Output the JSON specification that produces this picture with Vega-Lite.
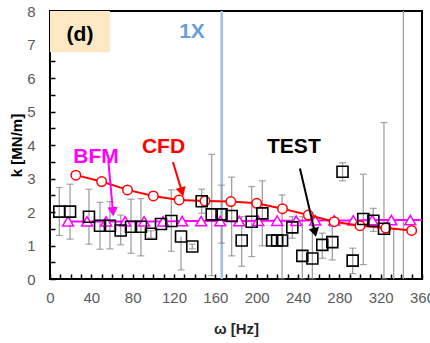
{
  "$schema": "https://vega.github.io/schema/vega-lite/v6.json",
  "width": 372,
  "height": 268,
  "autosize": {"type": "none"},
  "padding": {"left": 50, "top": 11, "right": 8, "bottom": 64},
  "background": "white",
  "config": {
    "font": "Liberation Sans",
    "view": {"stroke": "#000000", "strokeWidth": 2},
    "axis": {
      "grid": false,
      "domain": false,
      "labelFont": "Liberation Sans",
      "labelFontSize": 15,
      "labelColor": "#595959",
      "titleFont": "Liberation Sans",
      "titleFontSize": 15,
      "titleFontWeight": "bold",
      "titleColor": "#000000",
      "tickColor": "#000000",
      "tickWidth": 1.5,
      "tickSize": -5,
      "labelOverlap": false,
      "labelFlush": false
    }
  },
  "datasets": {
    "test": [
      {"w": 9, "k": 2.01, "lo": 1.30, "hi": 2.73},
      {"w": 19.4, "k": 2.01, "lo": 1.19, "hi": 2.83},
      {"w": 37.7, "k": 1.86, "lo": 1.04, "hi": 2.68},
      {"w": 48.4, "k": 1.59, "lo": 0.89, "hi": 2.29},
      {"w": 58, "k": 1.59, "lo": 0.90, "hi": 2.31},
      {"w": 68.4, "k": 1.45, "lo": 1.02, "hi": 1.91},
      {"w": 78.4, "k": 1.56, "lo": 0.77, "hi": 2.38},
      {"w": 88, "k": 1.56, "lo": 0.69, "hi": 2.40},
      {"w": 97.7, "k": 1.35, "lo": 1.22, "hi": 1.44},
      {"w": 107.4, "k": 1.64, "lo": 1.64, "hi": 1.64},
      {"w": 117.4, "k": 1.73, "lo": 0.83, "hi": 2.66},
      {"w": 126.8, "k": 1.27, "lo": 0.27, "hi": 1.27},
      {"w": 137.7, "k": 0.97, "lo": 0.90, "hi": 1.04},
      {"w": 146.8, "k": 2.32, "lo": 1.96, "hi": 2.68},
      {"w": 156.5, "k": 1.93, "lo": 0.10, "hi": 3.72},
      {"w": 166, "k": 1.93, "lo": 1.07, "hi": 2.80},
      {"w": 175.8, "k": 1.88, "lo": 0.69, "hi": 3.04},
      {"w": 185.5, "k": 1.15, "lo": 0.38, "hi": 1.86},
      {"w": 195.2, "k": 1.71, "lo": 0.67, "hi": 2.76},
      {"w": 205.5, "k": 1.96, "lo": 0.99, "hi": 2.93},
      {"w": 215, "k": 1.15, "lo": 1.15, "hi": 1.15},
      {"w": 219.8, "k": 1.15, "lo": 1.15, "hi": 1.15},
      {"w": 224.6, "k": 1.15, "lo": 0, "hi": 2.51},
      {"w": 234.5, "k": 1.54, "lo": 1.22, "hi": 1.86},
      {"w": 244.2, "k": 0.69, "lo": 0, "hi": 1.86},
      {"w": 253.9, "k": 0.61, "lo": 0, "hi": 1.9},
      {"w": 263.5, "k": 1.02, "lo": 0.62, "hi": 1.37},
      {"w": 273.2, "k": 1.10, "lo": 0.57, "hi": 1.57},
      {"w": 283.1, "k": 3.20, "lo": 2.93, "hi": 3.47},
      {"w": 292.9, "k": 0.55, "lo": 0.16, "hi": 0.92},
      {"w": 303.2, "k": 1.79, "lo": 0.43, "hi": 3.13},
      {"w": 312.9, "k": 1.74, "lo": 1.42, "hi": 2.11},
      {"w": 323.2, "k": 1.50, "lo": 0, "hi": 4.67},
      {"w": 332.6, "k": null, "lo": 0, "hi": 1.52},
      {"w": 342, "k": null, "lo": 0, "hi": 8}
    ],
    "cfd": [
      {"w": 25, "k": 3.10}, {"w": 50, "k": 2.91}, {"w": 75, "k": 2.66}, {"w": 100, "k": 2.48},
      {"w": 125, "k": 2.36}, {"w": 150, "k": 2.33}, {"w": 175, "k": 2.31}, {"w": 200, "k": 2.26},
      {"w": 225, "k": 2.10}, {"w": 250, "k": 1.91}, {"w": 275, "k": 1.71}, {"w": 300, "k": 1.59},
      {"w": 325, "k": 1.52}, {"w": 350, "k": 1.45}
    ],
    "bfm": [
      {"w": 17.5, "k": 1.72}, {"w": 35.9, "k": 1.72}, {"w": 54.3, "k": 1.72}, {"w": 72.7, "k": 1.72},
      {"w": 91.1, "k": 1.72}, {"w": 109.5, "k": 1.72}, {"w": 127.9, "k": 1.73}, {"w": 146.3, "k": 1.73},
      {"w": 164.7, "k": 1.73}, {"w": 183.1, "k": 1.73}, {"w": 201.5, "k": 1.74}, {"w": 219.9, "k": 1.74},
      {"w": 238.3, "k": 1.74}, {"w": 256.7, "k": 1.75}, {"w": 275.1, "k": 1.75}, {"w": 293.5, "k": 1.75},
      {"w": 311.9, "k": 1.76}, {"w": 330.3, "k": 1.76}, {"w": 348.7, "k": 1.76}, {"w": 367.1, "k": 1.76}
    ],
    "arrows": [
      {"name": "BFM", "w": 56.4, "k": 3.55, "w2": 60.9, "k2": 2.01},
      {"name": "CFD", "w": 119, "k": 3.49, "w2": 127.7, "k2": 2.60},
      {"name": "TEST", "w": 241.9, "k": 3.30, "w2": 256.4, "k2": 1.39}
    ],
    "notes": [
      {"name": "(d)", "w": 29, "k": 7.28},
      {"name": "1X", "w": 137.4, "k": 7.37},
      {"name": "BFM", "w": 44.5, "k": 3.64},
      {"name": "CFD", "w": 109.8, "k": 3.94},
      {"name": "TEST", "w": 236, "k": 3.94}
    ]
  },
  "encoding": {
    "x": {
      "field": "w", "type": "quantitative",
      "scale": {"domain": [0, 360], "nice": false, "zero": false},
      "axis": {
        "title": "ω [Hz]",
        "values": [0,10,20,30,40,50,60,70,80,90,100,110,120,130,140,150,160,170,180,190,200,210,220,230,240,250,260,270,280,290,300,310,320,330,340,350,360],
        "labelExpr": "datum.value % 40 == 0 ? format(datum.value, 'd') : ''",
        "labelPadding": 16,
        "titlePadding": 16,
        "titleColor": "#262626"
      }
    },
    "y": {
      "field": "k", "type": "quantitative",
      "scale": {"domain": [0, 8], "nice": false},
      "axis": {
        "title": "k [MN/m]",
        "values": [0,0.5,1,1.5,2,2.5,3,3.5,4,4.5,5,5.5,6,6.5,7,7.5,8],
        "labelExpr": "datum.value % 1 == 0 ? format(datum.value, 'd') : ''",
        "labelPadding": 20,
        "titlePadding": 2
      }
    }
  },
  "layer": [
    {
      "data": {"values": [{"w": 0, "w2": 58, "k": 6.77, "k2": 8}]},
      "mark": {"type": "rect", "fill": "#FCE8C3"},
      "encoding": {"x2": {"field": "w2"}, "y2": {"field": "k2"}}
    },
    {
      "data": {"values": [{"w": 166.2}]},
      "mark": {"type": "rule", "color": "#9DC3E6", "strokeWidth": 2.5},
      "encoding": {"y": null}
    },
    {
      "data": {"name": "test"},
      "mark": {"type": "rule", "color": "#A0A0A0", "strokeWidth": 1.3},
      "encoding": {
        "y": {"field": "lo", "type": "quantitative", "scale": {"domain": [0, 8], "nice": false}},
        "y2": {"field": "hi"}
      }
    },
    {
      "data": {"name": "test"},
      "transform": [{"filter": "datum.k != null && datum.lo < datum.k"}],
      "mark": {"type": "tick", "orient": "horizontal", "color": "#808080", "size": 7, "thickness": 1.2},
      "encoding": {"y": {"field": "lo", "type": "quantitative", "scale": {"domain": [0, 8], "nice": false}}}
    },
    {
      "data": {"name": "test"},
      "transform": [{"filter": "datum.k != null && datum.hi > datum.k"}],
      "mark": {"type": "tick", "orient": "horizontal", "color": "#808080", "size": 7, "thickness": 1.2},
      "encoding": {"y": {"field": "hi", "type": "quantitative", "scale": {"domain": [0, 8], "nice": false}}}
    },
    {
      "data": {"name": "bfm"},
      "mark": {"type": "line", "color": "#FF00FF", "strokeWidth": 2, "clip": true},
      "encoding": {}
    },
    {
      "data": {"name": "bfm"},
      "mark": {"type": "point", "shape": "triangle-up", "size": 120, "filled": false, "fill": "white", "fillOpacity": 1, "stroke": "#FF00FF", "strokeWidth": 1.5, "opacity": 1, "clip": true},
      "encoding": {}
    },
    {
      "data": {"name": "cfd"},
      "mark": {"type": "line", "color": "#FF0000", "strokeWidth": 2},
      "encoding": {}
    },
    {
      "data": {"name": "cfd"},
      "mark": {"type": "point", "shape": "circle", "size": 90, "filled": false, "fill": "white", "fillOpacity": 1, "stroke": "#FF0000", "strokeWidth": 1.5, "opacity": 1},
      "encoding": {}
    },
    {
      "data": {"name": "test"},
      "transform": [{"filter": "datum.k != null"}],
      "mark": {"type": "point", "shape": "square", "size": 121, "filled": false, "stroke": "#000000", "strokeWidth": 1.6, "opacity": 1},
      "encoding": {}
    },
    {
      "data": {"name": "arrows"},
      "mark": {"type": "rule", "strokeWidth": 2},
      "encoding": {
        "x2": {"field": "w2"},
        "y2": {"field": "k2"},
        "color": {"field": "name", "type": "nominal", "legend": null,
          "scale": {"domain": ["(d)", "1X", "BFM", "CFD", "TEST"], "range": ["#000000", "#6A9FD4", "#FF00FF", "#FF0000", "#000000"]}}
      }
    },
    {
      "data": {"name": "arrows"},
      "transform": [{"filter": "datum.name == 'BFM'"}],
      "mark": {"type": "point", "shape": "triangle-up", "size": 110, "filled": true, "color": "#FF00FF", "opacity": 1, "angle": 175},
      "encoding": {"x": {"field": "w2", "type": "quantitative", "scale": {"domain": [0, 360], "nice": false, "zero": false}}, "y": {"field": "k2", "type": "quantitative", "scale": {"domain": [0, 8], "nice": false}}}
    },
    {
      "data": {"name": "arrows"},
      "transform": [{"filter": "datum.name == 'CFD'"}],
      "mark": {"type": "point", "shape": "triangle-up", "size": 110, "filled": true, "color": "#FF0000", "opacity": 1, "angle": 163},
      "encoding": {"x": {"field": "w2", "type": "quantitative", "scale": {"domain": [0, 360], "nice": false, "zero": false}}, "y": {"field": "k2", "type": "quantitative", "scale": {"domain": [0, 8], "nice": false}}}
    },
    {
      "data": {"name": "arrows"},
      "transform": [{"filter": "datum.name == 'TEST'"}],
      "mark": {"type": "point", "shape": "triangle-up", "size": 110, "filled": true, "color": "#000000", "opacity": 1, "angle": 167},
      "encoding": {"x": {"field": "w2", "type": "quantitative", "scale": {"domain": [0, 360], "nice": false, "zero": false}}, "y": {"field": "k2", "type": "quantitative", "scale": {"domain": [0, 8], "nice": false}}}
    },
    {
      "data": {"name": "notes"},
      "mark": {"type": "text", "font": "Liberation Sans", "fontWeight": "bold", "fontSize": 21, "align": "center", "baseline": "middle"},
      "encoding": {
        "text": {"field": "name"},
        "color": {"field": "name", "type": "nominal", "legend": null,
          "scale": {"domain": ["(d)", "1X", "BFM", "CFD", "TEST"], "range": ["#000000", "#6A9FD4", "#FF00FF", "#FF0000", "#000000"]}}
      }
    }
  ]
}
